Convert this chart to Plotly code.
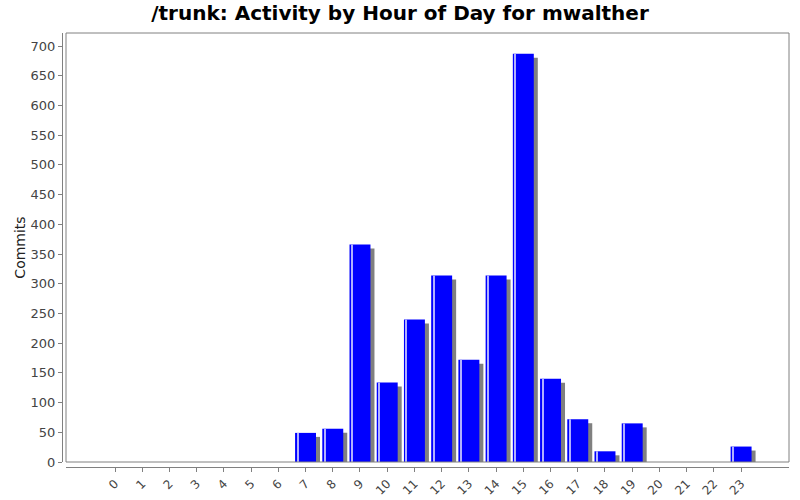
import plotly.graph_objects as go
import numpy as np

hours = list(range(24))
hour_labels = [str(h) for h in hours]
commits = [0, 0, 0, 0, 0, 0, 0, 49, 56, 366, 134, 240, 314, 172, 314, 687, 140, 72, 18, 65, 0, 0, 0, 26]

v = np.array(commits, dtype=float)
x = np.array(hours, dtype=float)
bw = 0.77
px_x = 1 / 27.2          # data units per pixel (x)
px_y = 1 / 0.594         # data units per pixel (y)
shadow = np.where(v > 0, v - 4 * px_y, 0)

fig = go.Figure()
fig.add_trace(go.Bar(x=x + 4 * px_x, y=shadow, width=bw, marker=dict(color="#808080", line=dict(width=0)),
                     hoverinfo="skip", showlegend=False))
fig.add_trace(go.Bar(x=x, y=v, width=bw, marker=dict(color="#0000ff", line=dict(width=0)),
                     showlegend=False, name="Commits"))
# highlight stripe near the left edge
fig.add_trace(go.Bar(x=x - bw / 2 + 2.5 * px_x, y=np.where(v > 0, v, 0), width=1.0 * px_x,
                     marker=dict(color="#b0b0ff", line=dict(width=0)), hoverinfo="skip", showlegend=False))

fig.update_layout(
    width=800, height=500,
    barmode="overlay",
    plot_bgcolor="white", paper_bgcolor="white",
    margin=dict(l=62, r=11, t=33, b=33, autoexpand=False),
    title=dict(text="<b>/trunk: Activity by Hour of Day for mwalther</b>", x=0.5, xanchor="center",
               yref="container", y=1 - 13 / 500, yanchor="middle", automargin=False,
               font=dict(family="DejaVu Sans", size=20, color="black")),
    font=dict(family="DejaVu Sans", color="#444444"),
    xaxis=dict(domain=[4 / 727, 1], range=[-1.8, 24.76], tickmode="array", tickvals=hours, ticktext=hour_labels,
               tickangle=-45, ticks="outside", ticklen=4, tickcolor="#808080", showline=True, linecolor="#808080",
               linewidth=1, anchor="free", position=0, showgrid=False, zeroline=False, automargin=False,
               tickfont=dict(size=12, color="#444444")),
    yaxis=dict(domain=[5 / 434, 1], range=[0, 722], tickmode="linear", tick0=0, dtick=50, ticks="outside",
               ticklen=4, tickcolor="#808080", showline=True, linecolor="#808080", linewidth=1,
               anchor="free", position=0, showgrid=False, zeroline=False, automargin=False,
               title=dict(text="Commits", font=dict(size=14, color="#222222"), standoff=0),
               tickfont=dict(size=13, color="#444444")),
    shapes=[dict(type="rect", xref="x domain", yref="y domain", x0=0, x1=1, y0=0, y1=1,
                 line=dict(color="#808080", width=1), fillcolor="rgba(0,0,0,0)")],
)

fig.write_html("out.html", config={"displayModeBar": False},
               post_script="document.body.style.margin='0';document.body.style.overflow='hidden';")
